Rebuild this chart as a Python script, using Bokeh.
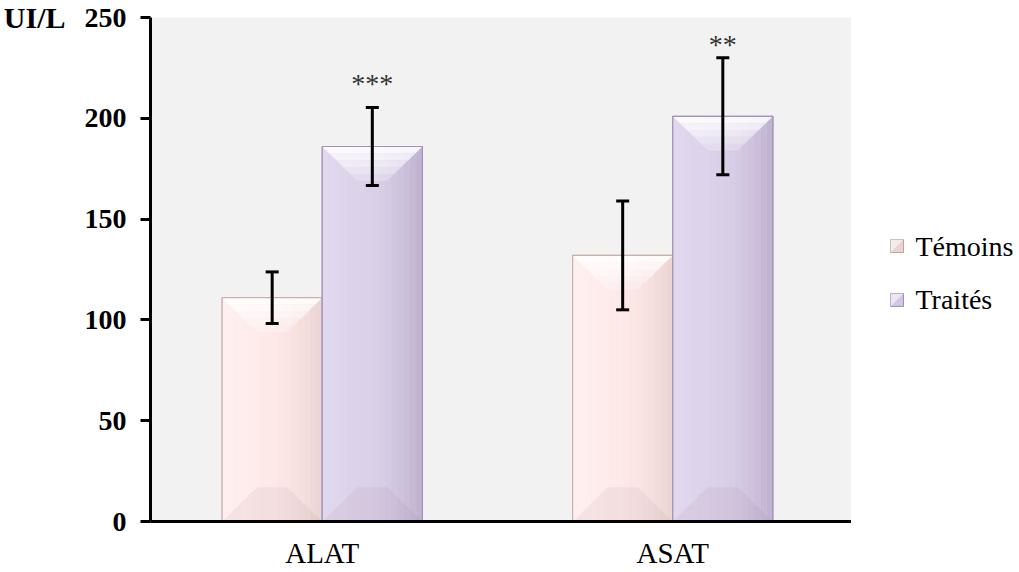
import numpy as np
from bokeh.plotting import figure
from bokeh.layouts import row
from bokeh.models import (ColumnDataSource, Whisker, TeeHead, LinearAxis,
                          FixedTicker, Range1d)
from bokeh.core.properties import value
from bokeh.embed import file_html
from bokeh.resources import INLINE

# ---------------- data ----------------
categories = ["ALAT", "ASAT"]
series_names = ["Témoins", "Traités"]
temoins = [111, 132]
temoins_err = [12.8, 27]
traites = [186, 201]
traites_err = [19.3, 29]
stars = ["***", "**"]
star_y = [217.5, 236.5]
y_ticks = [0, 50, 100, 150, 200, 250]
y_label = "UI/L"

FONT = "Liberation Serif"
FS = "28px"
H = 571
FRAME_TOP, FRAME_BOTTOM = 17, 522

# ---------------- styles ----------------
styles = {
    "Témoins": dict(left="#fff1f0", mid="#fde8e7", right="#e9d4d2", line="#c9b0ad",
                    legend="#e9d3d1", legend_line="#bfa3a0"),
    "Traités": dict(left="#e2d9ef", mid="#d9cfe7", right="#bfb1d0", line="#a193b7",
                    legend="#d2c8e3", legend_line="#9d8fb6"),
}
BAR_W = 0.2857
DX = 0.10   # bevel inset, x units
DY = 17.0   # bevel depth, y units


def hex2rgb(h):
    h = h.lstrip("#")
    return np.array([int(h[i:i + 2], 16) for i in (0, 2, 4)], dtype=float)


def rgb2hex(c):
    return "#%02x%02x%02x" % tuple(int(round(v)) for v in c)


def grad(c0, c1, c2, t):
    if t < 0.5:
        return rgb2hex(hex2rgb(c0) + (hex2rgb(c1) - hex2rgb(c0)) * (t / 0.5))
    return rgb2hex(hex2rgb(c1) + (hex2rgb(c2) - hex2rgb(c1)) * ((t - 0.5) / 0.5) ** 1.5)


p = figure(width=851, height=H, x_range=Range1d(0.01, 2.01), y_range=Range1d(0, 250),
           output_backend="svg", toolbar_location=None,
           min_border_left=150, min_border_right=0, min_border_top=FRAME_TOP,
           min_border_bottom=H - FRAME_BOTTOM)
p.background_fill_color = "#f2f2f2"
p.border_fill_color = "white"
p.outline_line_color = None
p.grid.visible = False

centers = [i + 0.5 for i in range(len(categories))]
series = [(series_names[0], temoins, temoins_err, -BAR_W / 2),
          (series_names[1], traites, traites_err, BAR_W / 2)]

for name, vals, errs, off in series:
    st = styles[name]
    xs = [c + off for c in centers]
    p.vbar(x=xs, top=vals, width=BAR_W, bottom=0, fill_color=st["mid"],
           line_color=st["line"], line_width=1)
    # horizontal gradient strips
    n = 16
    L, R, T, B, C = [], [], [], [], []
    for x, v in zip(xs, vals):
        l0 = x - BAR_W / 2
        for k in range(n):
            L.append(l0 + BAR_W * k / n)
            R.append(l0 + BAR_W * (k + 1) / n)
            T.append(v)
            B.append(0)
            C.append(grad(st["left"], st["mid"], st["right"], (k + 0.5) / n))
    p.quad(left=L, right=R, top=T, bottom=B, fill_color=C, line_color=None)
    # top bevel (white fade)
    nb = 5
    for k in range(nb):
        pxs, pys = [], []
        for x, v in zip(xs, vals):
            l, r = x - BAR_W / 2, x + BAR_W / 2
            f0, f1 = k / nb, (k + 1) / nb
            pxs.append([l + DX * f0, r - DX * f0, r - DX * f1, l + DX * f1])
            pys.append([v - DY * f0, v - DY * f0, v - DY * f1, v - DY * f1])
        p.patches(xs=pxs, ys=pys, fill_color="white", fill_alpha=0.85 - 0.15 * k,
                  line_color=None)
    # bottom bevel (darker)
    pxs, pys = [], []
    for x, v in zip(xs, vals):
        l, r = x - BAR_W / 2, x + BAR_W / 2
        pxs.append([l, r, r - DX, l + DX])
        pys.append([0, 0, DY, DY])
    p.patches(xs=pxs, ys=pys, fill_color="#7a5a70", fill_alpha=0.07, line_color=None)
    # outline on top
    p.vbar(x=xs, top=vals, width=BAR_W, bottom=0, fill_color=None,
           line_color=st["line"], line_width=1.2)

    src = ColumnDataSource(dict(base=xs, upper=[v + e for v, e in zip(vals, errs)],
                                lower=[v - e for v, e in zip(vals, errs)]))
    w = Whisker(source=src, base="base", upper="upper", lower="lower",
                line_color="black", line_width=3, level="overlay",
                upper_head=TeeHead(size=13, line_width=3, line_color="black"),
                lower_head=TeeHead(size=13, line_width=3, line_color="black"))
    p.add_layout(w)

# significance stars above Traités bars
p.text(x=[c + BAR_W / 2 for c in centers], y=star_y, text=stars,
       text_font=value(FONT), text_font_size=FS, text_align="center",
       text_baseline="middle", text_color="#333333")

# axes
p.yaxis.ticker = FixedTicker(ticks=y_ticks)
p.yaxis.minor_tick_line_color = None
p.yaxis.major_tick_in = 0
p.yaxis.major_tick_out = 10
p.yaxis.major_tick_line_width = 3
p.yaxis.axis_line_width = 3
p.yaxis.major_label_text_font = FONT
p.yaxis.major_label_text_font_style = "bold"
p.yaxis.major_label_text_font_size = FS
p.yaxis.major_label_text_color = "black"
p.yaxis.major_label_standoff = 14

# unit label as an outer axis carrying one label at the top tick
unit_axis = LinearAxis(ticker=FixedTicker(ticks=[y_ticks[-1]]),
                       major_label_overrides={y_ticks[-1]: y_label},
                       axis_line_color=None, major_tick_line_color=None,
                       minor_tick_line_color=None, major_tick_in=0, major_tick_out=0,
                       major_label_standoff=16, major_label_text_font=FONT,
                       major_label_text_font_style="bold", major_label_text_font_size="30px",
                       major_label_text_color="black")
p.add_layout(unit_axis, "left")

p.xaxis.ticker = FixedTicker(ticks=centers)
p.xaxis.major_label_overrides = {c: lab for c, lab in zip(centers, categories)}
p.xaxis.minor_tick_line_color = None
p.xaxis.major_tick_line_color = None
p.xaxis.major_tick_in = 0
p.xaxis.major_tick_out = 0
p.xaxis.axis_line_width = 3
p.xaxis.major_label_text_font = FONT
p.xaxis.major_label_text_font_size = "29px"
p.xaxis.major_label_text_color = "black"
p.xaxis.major_label_standoff = 15

# ---------------- legend panel ----------------
LW = 164
lg = figure(width=LW, height=H, x_range=Range1d(0, LW),
            y_range=Range1d(FRAME_BOTTOM, FRAME_TOP),
            output_backend="svg", toolbar_location=None, min_border=0,
            min_border_top=FRAME_TOP, min_border_bottom=H - FRAME_BOTTOM,
            x_axis_location=None, y_axis_location=None)
lg.grid.visible = False
lg.outline_line_color = None
lg.background_fill_color = "white"
lg.border_fill_color = "white"

item_y = [246, 300]
for name, yy in zip(series_names, item_y):
    st = styles[name]
    lg.quad(left=[39], right=[52], top=[yy - 6.5], bottom=[yy + 6.5],
            fill_color=st["legend"], line_color=st["legend_line"], line_width=1)
    lg.patches(xs=[[39, 52, 39]], ys=[[yy - 6.5, yy - 6.5, yy + 6.5]],
               fill_color="white", fill_alpha=0.55, line_color=None)
lg.text(x=[64, 64], y=item_y, text=series_names, text_font=value(FONT),
        text_font_size=FS, text_baseline="middle", text_align="left",
        text_color="black")

layout = row(p, lg)
open("out.html", "w").write(file_html(layout, INLINE))
